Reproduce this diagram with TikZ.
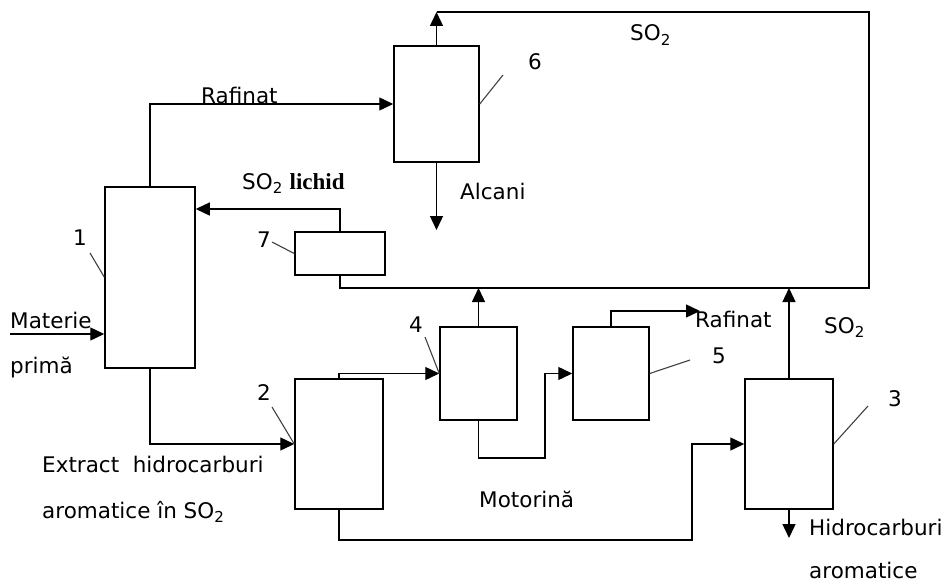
\documentclass[tikz,border=0pt]{standalone}
\usepackage{fontspec}
\setmainfont{DejaVu Sans}
\newfontfamily\serifpart{Liberation Serif}
\usetikzlibrary{arrows.meta, positioning}

\begin{document}
\begin{tikzpicture}[x=1pt, y=-1pt,
    vessel/.style={draw, line width=1.5pt, inner sep=0pt},
    flow/.style={line width=1.4pt, -{Triangle[length=14pt, width=13pt]}},
    pipe/.style={line width=1.4pt},
    leader/.style={line width=1.1pt, black!75},
    lbl/.style={anchor=base west, inner sep=0pt, font=\fontsize{21.5}{25}\selectfont}]
    \useasboundingbox (0,0) rectangle (952,583);

    % aparate
    \node[vessel, minimum width=90pt, minimum height=181pt] (b1) at (150,277.5) {};
    \node[vessel, minimum width=85pt, minimum height=116pt] (b6) at (436.5,104) {};
    \node[vessel, minimum width=90pt, minimum height=43pt] (b7) at (340,253.5) {};
    \node[vessel, minimum width=88pt, minimum height=130pt] (b2) at (339,444) {};
    \node[vessel, minimum width=77pt, minimum height=93pt] (b4) at (478.5,373.5) {};
    \node[vessel, minimum width=76pt, minimum height=93pt] (b5) at (611,373.5) {};
    \node[vessel, minimum width=88pt, minimum height=130pt] (b3) at (789,444) {};

    \coordinate (feed) at (10,334);
    \coordinate (lich) at (340,209);
    \coordinate (so2top) at (436.5,12);
    \coordinate (so2corner) at (869,288);
    \coordinate (raf5) at (700,311);
    \coordinate (c45) at (545,458);
    \coordinate (c23) at (692,540);
    \coordinate (alc) at (436.5,230);
    \coordinate (arom) at (789,538);

    % fluxuri
    \draw[flow] (feed) -- (b1.west |- feed);
    \draw[flow] (b1.north) |- (b6.west);
    \draw[flow] (b6.north) -- (so2top);
    \draw[pipe] (so2top) -| (so2corner) -| (b7.south);
    \draw[flow] (b6.south) -- (alc);
    \draw[flow] (b7.north) -- (lich) -- (b1.east |- lich);
    \draw[flow] (b1.south) |- (b2.west);
    \draw[flow] (b2.north) |- (b4.west);
    \draw[flow] (b4.north) -- (b4.north |- so2corner);
    \draw[flow] (b4.south) |- (c45) |- (b5.west);
    \draw[flow] (b5.north) |- (raf5);
    \draw[flow] (b2.south) |- (c23) |- (b3.west);
    \draw[flow] (b3.north) -- (b3.north |- so2corner);
    \draw[flow] (b3.south) -- (arom);

    % repere
    \draw[leader] (90,253) -- (b1.west |- 0,277);
    \draw[leader] (272,242) -- (b7.west);
    \draw[leader] (503,75) -- (b6.east);
    \draw[leader] (425,337) -- (b4.west);
    \draw[leader] (272,407) -- (b2.west);
    \draw[leader] (690,360) -- (b5.east);
    \draw[leader] (868,406) -- (b3.east);

    \node[lbl] (n1) at (73,245) {1};
    \node[lbl] (n7) at (257,247) {7};
    \node[lbl] (n6) at (528,70) {6};
    \node[lbl] (n4) at (409,332) {4};
    \node[lbl] (n2) at (257,400) {2};
    \node[lbl] (n5) at (712,363) {5};
    \node[lbl] (n3) at (888,406) {3};

    % texte
    \node[lbl] (tmat) at (10,328) {Materie};
    \node[lbl] (tpri) at (10,373) {primă};
    \node[lbl] (traf) at (201,103) {Rafinat};
    \node[lbl] (tlic) at (242,189) {SO\textsubscript{2} {\serifpart\bfseries\fontsize{23}{25}\selectfont lichid}};
    \node[lbl] (talc) at (460,199) {Alcani};
    \node[lbl] (tso2a) at (630,41) {SO\textsubscript{2}};
    \node[lbl] (traf5) at (695,327) {Rafinat};
    \node[lbl] (tso2b) at (824,333) {SO\textsubscript{2}};
    \node[lbl] (text1) at (42,472) {Extract\ \ hidrocarburi};
    \node[lbl] (text2) at (42,518) {aromatice în SO\textsubscript{2}};
    \node[lbl] (tmot) at (479,507) {Motorină};
    \node[lbl] (thc1) at (809,535) {Hidrocarburi};
    \node[lbl] (thc2) at (809,578) {aromatice};
\end{tikzpicture}
\end{document}
